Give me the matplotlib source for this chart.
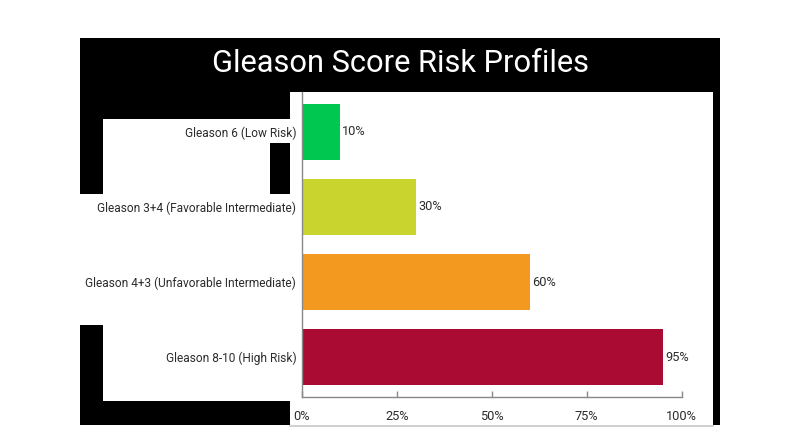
import matplotlib
matplotlib.use("Agg")
import matplotlib.pyplot as plt
from matplotlib.patches import Rectangle
from matplotlib.lines import Line2D

categories = ["Gleason 6 (Low Risk)", "Gleason 3+4 (Favorable Intermediate)",
              "Gleason 4+3 (Unfavorable Intermediate)", "Gleason 8-10 (High Risk)"]
values = [10, 30, 60, 95]
colors = ["#00C74F", "#CAD42F", "#F3991F", "#A90B33"]
xticks = [0, 25, 50, 75, 100]
xtick_labels = ["0%", "25%", "50%", "75%", "100%"]
title = "Gleason Score Risk Profiles"

FONT = ["Roboto", "DejaVu Sans"]
plt.rcParams["font.family"] = FONT
TXT = "#2b2b2b"

W, H = 800, 447
fig = plt.figure(figsize=(8, 4.47), dpi=100)
fig.patch.set_facecolor("white")

def rect(x0, y0, x1, y1, color="black"):
    fig.add_artist(Rectangle((x0 / W, 1 - y1 / H), (x1 - x0) / W, (y1 - y0) / H,
                             transform=fig.transFigure, facecolor=color,
                             edgecolor="none", zorder=0))

# decorative black frame pieces
rect(80, 38, 720, 92)
rect(713, 92, 720, 425)
rect(80, 92, 290, 119)
rect(80, 119, 103, 194)
rect(270, 143, 290, 194)
rect(80, 325, 103, 425)
rect(103, 401, 290, 425)
fig.add_artist(Line2D([290 / W, 713 / W], [1 - 425.5 / H, 1 - 425.5 / H],
                      transform=fig.transFigure, color="#c8c8c8", lw=1.2))

fig.text(400 / W, 1 - 63 / H, title, color="white", fontsize=22.2,
         ha="center", va="center")

ax = fig.add_axes([301.7 / W, 1 - 397 / H, 380 / W, 305 / H])
ax.set_facecolor("none")
ypos = list(range(len(categories)))
ax.barh(ypos, values, height=0.75, color=colors, zorder=2)
for y, v in zip(ypos, values):
    ax.text(v + 0.6, y, f"{v}%", va="center", ha="left", fontsize=9.2, color=TXT)

ax.set_xlim(0, 100)
ax.set_ylim(3.533, -0.533)
ax.set_yticks(ypos)
ax.set_yticklabels(categories, fontsize=8.6, color=TXT)
ax.tick_params(axis="y", length=0, pad=4)
ax.set_xticks(xticks)
ax.set_xticklabels(xtick_labels, fontsize=9.2, color=TXT)
ax.tick_params(axis="x", direction="in", length=4, width=1, color="#888888", pad=9)
for s in ["top", "right"]:
    ax.spines[s].set_visible(False)
for s in ["left", "bottom"]:
    ax.spines[s].set_color("#888888")
    ax.spines[s].set_linewidth(1)

fig.savefig("out.png", dpi=100)
